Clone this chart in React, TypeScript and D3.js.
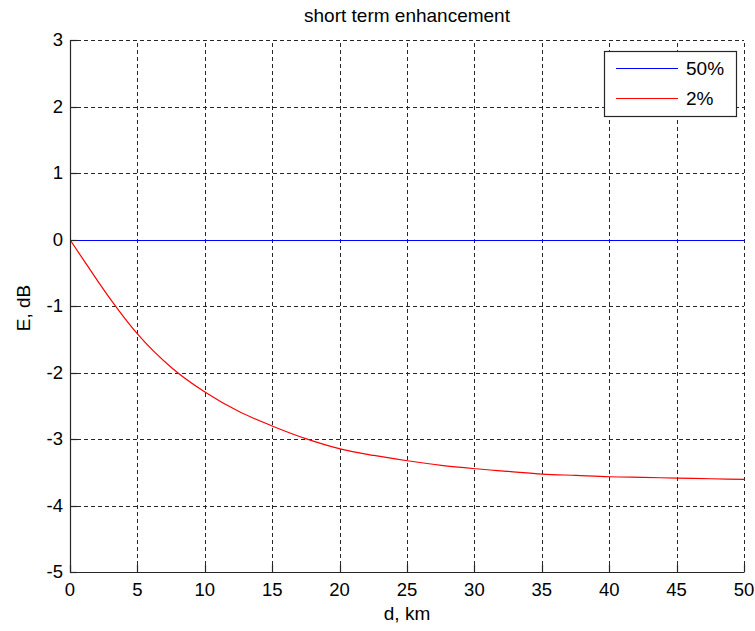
import React from "react";
import * as d3 from "d3";

const title = "short term enhancement";
const xLabel = "d, km";
const yLabel = "E, dB";
const xTicks = [0, 5, 10, 15, 20, 25, 30, 35, 40, 45, 50];
const yTicks = [-5, -4, -3, -2, -1, 0, 1, 2, 3];
const seriesNames = ["50%", "2%"];
const seriesColors = ["#0000ff", "#ff0000"];
const dValues = [0, 1, 2, 3, 4, 5, 7.5, 10, 12.5, 15, 17.5, 20, 22.5, 25, 27.5, 30, 32.5, 35, 37.5, 40, 42.5, 45, 47.5, 50];
const e50 = dValues.map(() => 0);
const e2 = [0, -0.31, -0.61, -0.9, -1.17, -1.42, -1.92, -2.29, -2.58, -2.8, -2.99, -3.14, -3.24, -3.32, -3.39, -3.44, -3.48, -3.52, -3.54, -3.56, -3.57, -3.58, -3.59, -3.6];

export default function App() {
  const W = 755, H = 631;
  const left = 70, right = 744, top = 40, bottom = 572;
  const x = d3.scaleLinear().domain([0, 50]).range([left, right]);
  const y = d3.scaleLinear().domain([-5, 3]).range([bottom, top]);
  const line = d3
    .line<number>()
    .x((_, i) => x(dValues[i]) + 0.5)
    .y((v) => (v === 0 ? Math.round(y(v)) + 0.5 : y(v) + 0.5))
    .curve(d3.curveMonotoneX);
  const series = [e50, e2];
  const font = "'Liberation Sans', Arial, sans-serif";
  const axisColor = "#262626";
  const lx0 = 604, ly0 = 51, lw = 132, lh = 65;
  return (
    <svg width={W} height={H} style={{ position: "absolute", left: 0, top: 0, background: "#fff" }} fontFamily={font}>
      <rect x={0} y={0} width={W} height={H} fill="#fff" />
      {xTicks.map((t) => (
        <line key={"gx" + t} x1={Math.round(x(t)) + 0.5} x2={Math.round(x(t)) + 0.5} y1={bottom} y2={top} stroke={axisColor} strokeWidth={1} strokeDasharray="4,3" />
      ))}
      {yTicks.map((t) => (
        <line key={"gy" + t} x1={left} x2={right} y1={Math.round(y(t)) + 0.5} y2={Math.round(y(t)) + 0.5} stroke={axisColor} strokeWidth={1} strokeDasharray="4,3" />
      ))}
      {series.map((s, i) => (
        <path key={"s" + i} d={line(s) || ""} fill="none" stroke={seriesColors[i]} strokeWidth={1.2} />
      ))}
      <line x1={left + 0.5} x2={left + 0.5} y1={top} y2={bottom + 0.5} stroke={axisColor} strokeWidth={1.2} />
      <line x1={left} x2={right + 0.5} y1={bottom + 0.5} y2={bottom + 0.5} stroke={axisColor} strokeWidth={1.2} />
      {xTicks.map((t) => (
        <g key={"tx" + t}>
          <line x1={Math.round(x(t)) + 0.5} x2={Math.round(x(t)) + 0.5} y1={bottom} y2={bottom - 7} stroke={axisColor} strokeWidth={1.2} />
          <text x={x(t)} y={596} textAnchor="middle" fontSize={18.5} fill="#000">{t}</text>
        </g>
      ))}
      {yTicks.map((t) => (
        <g key={"ty" + t}>
          <line x1={left} x2={left + 7} y1={Math.round(y(t)) + 0.5} y2={Math.round(y(t)) + 0.5} stroke={axisColor} strokeWidth={1.2} />
          <text x={63} y={y(t)} dy="0.35em" textAnchor="end" fontSize={18.5} fill="#000">{t}</text>
        </g>
      ))}
      <text x={(left + right) / 2} y={22} textAnchor="middle" fontSize={19} fill="#000">{title}</text>
      <text x={(left + right) / 2} y={620} textAnchor="middle" fontSize={19} fill="#000">{xLabel}</text>
      <text transform={`translate(30, ${(top + bottom) / 2 + 2}) rotate(-90)`} textAnchor="middle" fontSize={19} fill="#000">{yLabel}</text>
      <rect x={lx0 + 0.5} y={ly0 + 0.5} width={lw} height={lh} fill="#fff" stroke={axisColor} strokeWidth={1.2} />
      {seriesNames.map((n, i) => (
        <g key={"lg" + i}>
          <line x1={616} x2={678} y1={68 + i * 30 + 0.5} y2={68 + i * 30 + 0.5} stroke={seriesColors[i]} strokeWidth={1.2} />
          <text x={686} y={68 + i * 30} dy="0.35em" fontSize={19} fill="#000">{n}</text>
        </g>
      ))}
    </svg>
  );
}
